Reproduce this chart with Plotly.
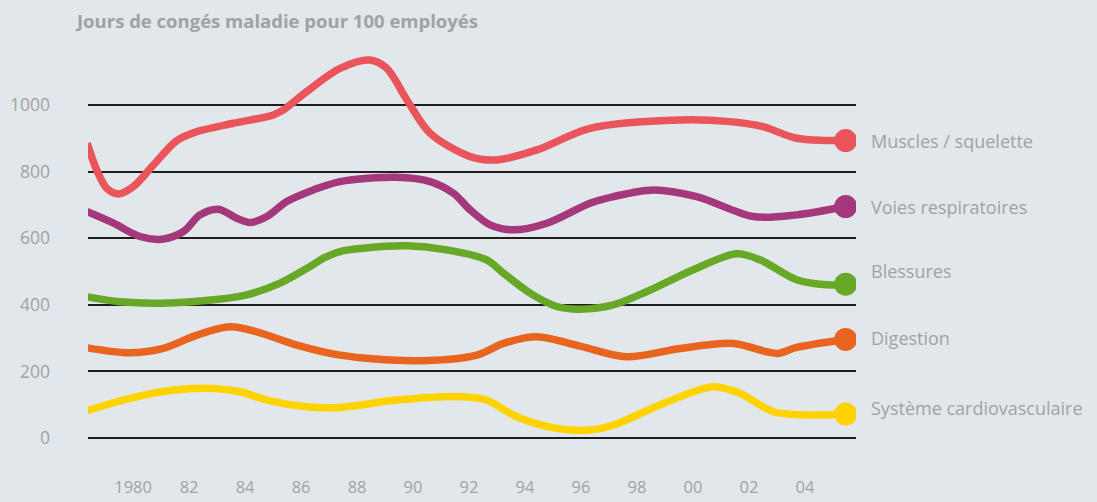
import plotly.graph_objects as go

# ---- data ----
categories = ["Muscles / squelette", "Voies respiratoires", "Blessures", "Digestion", "Système cardiovasculaire"]

muscles_x = [1978.36, 1978.70, 1979.06, 1979.48, 1980.01, 1980.73, 1981.56, 1982.28, 1983.58, 1985.01, 1985.37,
             1986.20, 1987.39, 1988.46, 1989.06, 1989.78, 1990.61, 1992.04, 1992.99, 1994.42, 1996.32, 1999.54,
             2001.32, 2002.50, 2003.70, 2005.45]
muscles_y = [885, 805, 750, 733, 755, 820, 893, 920, 945, 970, 985,
             1040, 1110, 1135, 1110, 1015, 915, 845, 835, 865, 930, 955,
             950, 935, 900, 893]

resp_x = [1978.35, 1979.30, 1980.25, 1981.03, 1981.80, 1982.39, 1983.05, 1983.70, 1984.18, 1984.78, 1985.49,
          1986.44, 1987.39, 1989.42, 1990.61, 1991.44, 1992.04, 1992.75, 1993.58, 1994.78, 1996.32, 1997.16,
          1998.58, 2000.13, 2002.15, 2003.70, 2005.45]
resp_y = [680, 645, 605, 597, 620, 670, 687, 660, 647, 665, 710,
          745, 770, 783, 770, 735, 685, 640, 625, 645, 705, 725,
          745, 725, 665, 670, 695]

bless_x = [1978.35, 1979.54, 1981.08, 1982.87, 1984.06, 1985.25, 1986.32, 1986.80, 1987.39, 1988.23, 1989.78,
           1991.20, 1992.63, 1993.23, 1994.18, 1995.13, 1995.96, 1997.15, 1998.35, 2000.13, 2001.56, 2002.39,
           2003.70, 2004.77, 2005.45]
bless_y = [424, 409, 405, 415, 430, 465, 515, 540, 560, 570, 577,
           565, 535, 495, 435, 395, 387, 400, 440, 510, 553, 535,
           475, 460, 462]

dig_x = [1978.35, 1979.89, 1981.08, 1982.28, 1983.46, 1984.42, 1985.85, 1987.39, 1990.01, 1992.28, 1993.23,
         1994.42, 1995.96, 1997.63, 1999.54, 2001.44, 2002.63, 2003.05, 2003.70, 2005.45]
dig_y = [271, 256, 269, 309, 334, 319, 279, 249, 232, 249, 284,
         304, 276, 244, 269, 284, 259, 254, 272, 296]

cardio_x = [1978.35, 1979.89, 1981.44, 1982.87, 1983.82, 1984.78, 1986.20, 1987.39, 1989.42, 1991.80, 1992.63,
            1993.70, 1995.13, 1996.32, 1997.16, 1998.94, 2000.73, 2001.68, 2002.87, 2004.30, 2005.45]
cardio_y = [82, 119, 144, 149, 139, 114, 94, 92, 114, 124, 114,
            64, 29, 24, 39, 104, 154, 134, 79, 69, 72]

y_ticks = [0, 200, 400, 600, 800, 1000]
x_ticks = [1980, 1982, 1984, 1986, 1988, 1990, 1992, 1994, 1996, 1998, 2000, 2002, 2004]
x_tick_labels = ["1980", "82", "84", "86", "88", "90", "92", "94", "96", "98", "00", "02", "04"]

title = "Jours de congés maladie pour 100 employés"

# ---- styling ----
colors = ["#e9555b", "#a5387b", "#67a826", "#e9641f", "#fed300"]
label_yshift = [0, 0, 13, 1, 6]
BG = "#e2e7eb"
GREY = "#a0a2a4"
FONT = "Open Sans"

series = [(muscles_x, muscles_y), (resp_x, resp_y), (bless_x, bless_y), (dig_x, dig_y), (cardio_x, cardio_y)]

fig = go.Figure()
for (xs, ys), name, c in zip(series, categories, colors):
    fig.add_trace(go.Scatter(x=xs, y=ys, mode="lines", name=name,
                             line=dict(color=c, width=7.5, shape="spline", smoothing=0.9),
                             hoverinfo="skip", showlegend=False))
for (xs, ys), name, c in zip(series, categories, colors):
    fig.add_trace(go.Scatter(x=[xs[-1]], y=[ys[-1]], mode="markers", name=name,
                             marker=dict(color=c, size=23, line=dict(width=0)),
                             showlegend=False))

annotations = []
for (xs, ys), name, dy in zip(series, categories, label_yshift):
    annotations.append(dict(x=xs[-1], y=ys[-1], xref="x", yref="y", text=name,
                            showarrow=False, xanchor="left", yanchor="middle",
                            xshift=23, yshift=dy,
                            font=dict(family=FONT, size=18, color=GREY)))

fig.update_layout(
    width=1097, height=502,
    paper_bgcolor=BG, plot_bgcolor=BG,
    margin=dict(l=88, r=241, t=50, b=27),
    title=dict(text=title, x=77 / 1097, xref="container", xanchor="left",
               y=1 - 22 / 502, yref="container", yanchor="middle",
               font=dict(family=FONT, size=18.5, color=GREY, weight="bold")),
    annotations=annotations,
    showlegend=False,
)
fig.update_xaxes(range=[1978.39, 2005.82], tickvals=x_ticks, ticktext=x_tick_labels,
                 showgrid=False, zeroline=False, showline=False, ticks="",
                 automargin=False, ticklabelstandoff=0,
                 tickfont=dict(family=FONT, size=16.5, color=GREY))
fig.update_yaxes(range=[-111, 1165], tickvals=y_ticks, showgrid=True, gridcolor="#1e1e1e",
                 gridwidth=2, zeroline=False, showline=False, ticks="",
                 automargin=False, ticklabelstandoff=37,
                 tickfont=dict(family=FONT, size=17.5, color=GREY))

fig.write_html("out.html", config={"displayModeBar": False},
               post_script="document.body.style.margin='0';document.body.style.background='%s';" % BG)
